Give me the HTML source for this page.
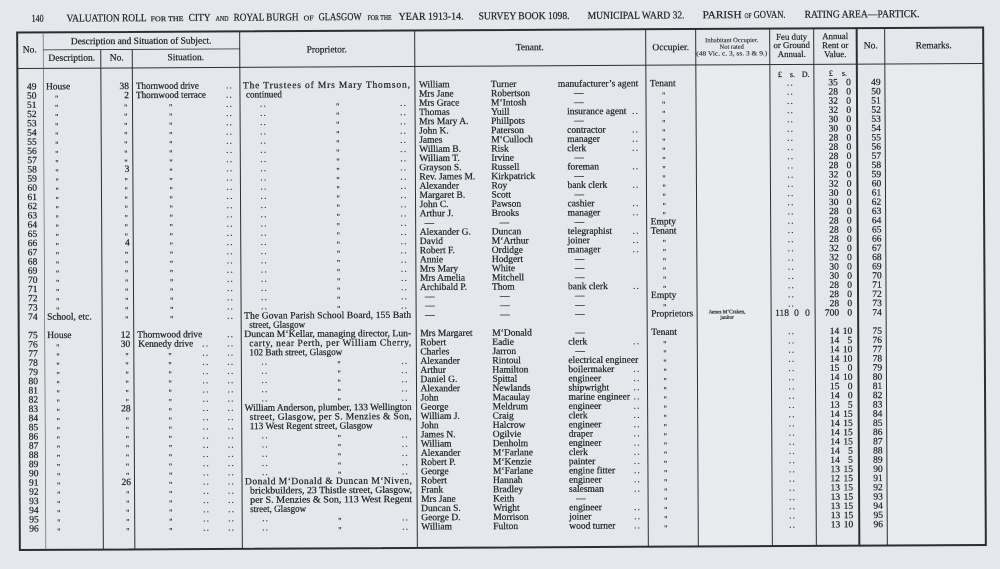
<!DOCTYPE html>
<html><head><meta charset="utf-8"><style>
html,body{margin:0;padding:0;background:#e4e7eb;}
svg{display:block;}
text{font-family:"Liberation Serif",serif;stroke:#222;stroke-width:0.22px;}
</style></head><body>
<svg width="1000" height="569" viewBox="0 0 1000 569" xmlns="http://www.w3.org/2000/svg" font-family="Liberation Serif, serif">
<rect width="1000" height="569" fill="#e4e7eb"/>
<g transform="rotate(-0.3 500 290)" font-family="Liberation Serif, serif">
<rect x="697" y="66" width="74" height="481" fill="#e9ecef"/>
<rect x="886" y="66" width="98" height="481" fill="#e8ebee"/>

<g stroke="#2e2e2e" fill="none">
<rect x="18.5" y="30" width="966" height="517.5" stroke-width="2"/>
<line x1="18.5" y1="66" x2="984.5" y2="66" stroke-width="1"/>
<line x1="44.5" y1="47.5" x2="241" y2="47.5" stroke-width="0.8"/>
<line x1="44.5" y1="30" x2="44.5" y2="547" stroke-width="0.7" stroke="#666"/>
<line x1="102" y1="47.5" x2="102" y2="547" stroke-width="1"/>
<line x1="133.5" y1="47.5" x2="133.5" y2="547" stroke-width="1"/>
<line x1="241" y1="30" x2="241" y2="547" stroke-width="1"/>
<line x1="416" y1="30" x2="416" y2="547" stroke-width="1"/>
<line x1="647" y1="30" x2="647" y2="547" stroke-width="1"/>
<line x1="697" y1="30" x2="697" y2="547" stroke-width="1"/>
<line x1="771" y1="30" x2="771" y2="547" stroke-width="1"/>
<line x1="815" y1="30" x2="815" y2="547" stroke-width="1"/>
<line x1="858" y1="30" x2="858" y2="547" stroke-width="2"/>
<line x1="886" y1="30" x2="886" y2="547" stroke-width="1"/>
</g>

<g fill="#222" font-size="10.5">
<text x="33" y="19.3" textLength="12" lengthAdjust="spacingAndGlyphs">140</text>
<text x="68" y="19.3" textLength="80" lengthAdjust="spacingAndGlyphs">VALUATION ROLL</text>
<text x="152" y="19.3" font-size="7" textLength="33" lengthAdjust="spacingAndGlyphs">FOR THE</text>
<text x="190" y="19.3" textLength="22" lengthAdjust="spacingAndGlyphs">CITY</text>
<text x="217" y="19.3" font-size="7" textLength="13" lengthAdjust="spacingAndGlyphs">AND</text>
<text x="235" y="19.3" textLength="65" lengthAdjust="spacingAndGlyphs">ROYAL BURGH</text>
<text x="305" y="19.3" font-size="7" textLength="10" lengthAdjust="spacingAndGlyphs">OF</text>
<text x="320" y="19.3" textLength="43" lengthAdjust="spacingAndGlyphs">GLASGOW</text>
<text x="369" y="19.3" font-size="7" textLength="24" lengthAdjust="spacingAndGlyphs">FOR THE</text>
<text x="400" y="19.3" textLength="65" lengthAdjust="spacingAndGlyphs">YEAR 1913-14.</text>
<text x="480" y="19.3" textLength="91" lengthAdjust="spacingAndGlyphs">SURVEY BOOK 1098.</text>
<text x="589" y="19.3" textLength="97" lengthAdjust="spacingAndGlyphs">MUNICIPAL WARD 32.</text>
<text x="704" y="19.3" textLength="39" lengthAdjust="spacingAndGlyphs">PARISH</text>
<text x="746" y="19.3" font-size="7" textLength="7" lengthAdjust="spacingAndGlyphs">OF</text>
<text x="755" y="19.3" textLength="32" lengthAdjust="spacingAndGlyphs">GOVAN.</text>
<text x="806" y="19.3" textLength="115" lengthAdjust="spacingAndGlyphs">RATING AREA—PARTICK.</text>
</g>

<g fill="#222" font-size="9.5" text-anchor="middle">
<text x="31" y="50">No.</text>
<text x="142.5" y="42">Description and Situation of Subject.</text>
<text x="73" y="58.5">Description.</text>
<text x="118" y="58.5">No.</text>
<text x="187" y="58.5">Situation.</text>
<text x="328" y="51.5">Proprietor.</text>
<text x="531" y="50.3">Tenant.</text>
<text x="672" y="51">Occupier.</text>
<text x="733" y="43.4" font-size="6.5" style="stroke-width:0.1px">Inhabitant Occupier.</text>
<text x="733" y="50" font-size="6.5" style="stroke-width:0.1px">Not rated</text>
<text x="733" y="56.7" font-size="6.5" style="stroke-width:0.1px" textLength="71" lengthAdjust="spacingAndGlyphs">(48 Vic. c. 3, ss. 3 &amp; 9.)</text>
<text x="793" y="41.2" font-size="8.8">Feu duty</text>
<text x="793" y="49.5" font-size="8.8">or Ground</text>
<text x="793" y="58.5" font-size="8.8">Annual.</text>
<text x="836.5" y="40.8" font-size="8.8">Annual</text>
<text x="836.5" y="49.8" font-size="8.8">Rent or</text>
<text x="836.5" y="58.8" font-size="8.8">Value.</text>
<text x="872" y="50.3">No.</text>
<text x="935" y="50.6">Remarks.</text>
</g>
<g fill="#222" font-size="8">
<text x="779" y="78.5">£</text><text x="791" y="78.5">s.</text><text x="803" y="78.5">D.</text>
<text x="830" y="77.5">£</text><text x="843" y="77.5">s.</text>
</g>

<g fill="#222" font-size="9.5" text-anchor="end">
<text x="37.5" y="87">49</text><text x="37.5" y="96.2">50</text><text x="37.5" y="105.4">51</text><text x="37.5" y="114.6">52</text><text x="37.5" y="123.8">53</text><text x="37.5" y="133.1">54</text><text x="37.5" y="142.3">55</text><text x="37.5" y="151.5">56</text><text x="37.5" y="160.7">57</text><text x="37.5" y="169.9">58</text><text x="37.5" y="179.1">59</text><text x="37.5" y="188.3">60</text><text x="37.5" y="197.5">61</text><text x="37.5" y="206.7">62</text><text x="37.5" y="215.9">63</text><text x="37.5" y="225.2">64</text><text x="37.5" y="234.4">65</text><text x="37.5" y="243.6">66</text><text x="37.5" y="252.8">67</text><text x="37.5" y="262">68</text><text x="37.5" y="271.2">69</text><text x="37.5" y="280.4">70</text><text x="37.5" y="289.6">71</text><text x="37.5" y="298.8">72</text><text x="37.5" y="308">73</text><text x="37.5" y="317.3">74</text>
<text x="37.5" y="335.7">75</text><text x="37.5" y="344.9">76</text><text x="37.5" y="354.1">77</text><text x="37.5" y="363.3">78</text><text x="37.5" y="372.5">79</text><text x="37.5" y="381.7">80</text><text x="37.5" y="390.9">81</text><text x="37.5" y="400.1">82</text><text x="37.5" y="409.4">83</text><text x="37.5" y="418.6">84</text><text x="37.5" y="427.8">85</text><text x="37.5" y="437">86</text><text x="37.5" y="446.2">87</text><text x="37.5" y="455.4">88</text><text x="37.5" y="464.6">89</text><text x="37.5" y="473.8">90</text><text x="37.5" y="483">91</text><text x="37.5" y="492.2">92</text><text x="37.5" y="501.5">93</text><text x="37.5" y="510.7">94</text><text x="37.5" y="519.9">95</text><text x="37.5" y="529.1">96</text>
</g>

<g fill="#222" font-size="9.5">
<text x="47" y="87">House</text>
<text x="47" y="317.3">School, etc.</text>
<text x="47" y="335.7">House</text>
</g>
<g fill="#333" font-size="8" transform="translate(0,2.5)">
<text x="56" y="96.2">"</text><text x="56" y="105.4">"</text><text x="56" y="114.6">"</text><text x="56" y="123.8">"</text><text x="56" y="133.1">"</text><text x="56" y="142.3">"</text><text x="56" y="151.5">"</text><text x="56" y="160.7">"</text><text x="56" y="169.9">"</text><text x="56" y="179.1">"</text><text x="56" y="188.3">"</text><text x="56" y="197.5">"</text><text x="56" y="206.7">"</text><text x="56" y="215.9">"</text><text x="56" y="225.2">"</text><text x="56" y="234.4">"</text><text x="56" y="243.6">"</text><text x="56" y="252.8">"</text><text x="56" y="262">"</text><text x="56" y="271.2">"</text><text x="56" y="280.4">"</text><text x="56" y="289.6">"</text><text x="56" y="298.8">"</text><text x="56" y="308">"</text>
<text x="56" y="344.9">"</text><text x="56" y="354.1">"</text><text x="56" y="363.3">"</text><text x="56" y="372.5">"</text><text x="56" y="381.7">"</text><text x="56" y="390.9">"</text><text x="56" y="400.1">"</text><text x="56" y="409.4">"</text><text x="56" y="418.6">"</text><text x="56" y="427.8">"</text><text x="56" y="437">"</text><text x="56" y="446.2">"</text><text x="56" y="455.4">"</text><text x="56" y="464.6">"</text><text x="56" y="473.8">"</text><text x="56" y="483">"</text><text x="56" y="492.2">"</text><text x="56" y="501.5">"</text><text x="56" y="510.7">"</text><text x="56" y="519.9">"</text><text x="56" y="529.1">"</text>
</g>

<g fill="#222" font-size="9.5" text-anchor="end">
<text x="130" y="87">38</text><text x="130" y="96.2">2</text><text x="130" y="169.9">3</text><text x="130" y="243.6">4</text>
<text x="130" y="335.7">12</text><text x="130" y="344.9">30</text><text x="130" y="409.4">28</text><text x="130" y="483">26</text>
</g>
<g fill="#333" font-size="8" transform="translate(0,2.5)">
<text x="125" y="105.4">"</text><text x="125" y="114.6">"</text><text x="125" y="123.8">"</text><text x="125" y="133.1">"</text><text x="125" y="142.3">"</text><text x="125" y="151.5">"</text><text x="125" y="160.7">"</text>
<text x="125" y="179.1">"</text><text x="125" y="188.3">"</text><text x="125" y="197.5">"</text><text x="125" y="206.7">"</text><text x="125" y="215.9">"</text><text x="125" y="225.2">"</text><text x="125" y="234.4">"</text>
<text x="125" y="252.8">"</text><text x="125" y="262">"</text><text x="125" y="271.2">"</text><text x="125" y="280.4">"</text><text x="125" y="289.6">"</text><text x="125" y="298.8">"</text><text x="125" y="308">"</text><text x="125" y="317.3">"</text>
<text x="125" y="354.1">"</text><text x="125" y="363.3">"</text><text x="125" y="372.5">"</text><text x="125" y="381.7">"</text><text x="125" y="390.9">"</text><text x="125" y="400.1">"</text>
<text x="125" y="418.6">"</text><text x="125" y="427.8">"</text><text x="125" y="437">"</text><text x="125" y="446.2">"</text><text x="125" y="455.4">"</text><text x="125" y="464.6">"</text><text x="125" y="473.8">"</text>
<text x="125" y="492.2">"</text><text x="125" y="501.5">"</text><text x="125" y="510.7">"</text><text x="125" y="519.9">"</text><text x="125" y="529.1">"</text>
</g>

<g fill="#222" font-size="9.5">
<text x="137" y="87" textLength="63" lengthAdjust="spacingAndGlyphs">Thornwood drive</text>
<text x="137" y="96.2" textLength="70" lengthAdjust="spacingAndGlyphs">Thornwood terrace</text>
<text x="137" y="335.7" textLength="65" lengthAdjust="spacingAndGlyphs">Thornwood drive</text>
<text x="138" y="344.9" textLength="55" lengthAdjust="spacingAndGlyphs">Kennedy drive</text>
</g>
<g fill="#333" font-size="8" transform="translate(0,2.5)">
<text x="170" y="105.4">"</text><text x="170" y="114.6">"</text><text x="170" y="123.8">"</text><text x="170" y="133.1">"</text><text x="170" y="142.3">"</text><text x="170" y="151.5">"</text><text x="170" y="160.7">"</text><text x="170" y="169.9">"</text><text x="170" y="179.1">"</text><text x="170" y="188.3">"</text><text x="170" y="197.5">"</text><text x="170" y="206.7">"</text><text x="170" y="215.9">"</text><text x="170" y="225.2">"</text><text x="170" y="234.4">"</text><text x="170" y="243.6">"</text><text x="170" y="252.8">"</text><text x="170" y="262">"</text><text x="170" y="271.2">"</text><text x="170" y="280.4">"</text><text x="170" y="289.6">"</text><text x="170" y="298.8">"</text><text x="170" y="308">"</text><text x="170" y="317.3">"</text>
<text x="168" y="354.1">"</text><text x="168" y="363.3">"</text><text x="168" y="372.5">"</text><text x="168" y="381.7">"</text><text x="168" y="390.9">"</text><text x="168" y="400.1">"</text><text x="168" y="409.4">"</text><text x="168" y="418.6">"</text><text x="168" y="427.8">"</text><text x="168" y="437">"</text><text x="168" y="446.2">"</text><text x="168" y="455.4">"</text><text x="168" y="464.6">"</text><text x="168" y="473.8">"</text><text x="168" y="483">"</text><text x="168" y="492.2">"</text><text x="168" y="501.5">"</text><text x="168" y="510.7">"</text><text x="168" y="519.9">"</text><text x="168" y="529.1">"</text>
</g>
<g fill="#333" font-size="9" letter-spacing="1.3">
<text x="227" y="87">..</text><text x="227" y="96.2">..</text><text x="227" y="105.4">..</text><text x="227" y="114.6">..</text><text x="227" y="123.8">..</text><text x="227" y="133.1">..</text><text x="227" y="142.3">..</text><text x="227" y="151.5">..</text><text x="227" y="160.7">..</text><text x="227" y="169.9">..</text><text x="227" y="179.1">..</text><text x="227" y="188.3">..</text><text x="227" y="197.5">..</text><text x="227" y="206.7">..</text><text x="227" y="215.9">..</text><text x="227" y="225.2">..</text><text x="227" y="234.4">..</text><text x="227" y="243.6">..</text><text x="227" y="252.8">..</text><text x="227" y="262">..</text><text x="227" y="271.2">..</text><text x="227" y="280.4">..</text><text x="227" y="289.6">..</text><text x="227" y="298.8">..</text><text x="227" y="308">..</text><text x="227" y="317.3">..</text>
<text x="227" y="335.7">..</text><text x="227" y="344.9">..</text><text x="227" y="354.1">..</text><text x="227" y="363.3">..</text><text x="227" y="372.5">..</text><text x="227" y="381.7">..</text><text x="227" y="390.9">..</text><text x="227" y="400.1">..</text><text x="227" y="409.4">..</text><text x="227" y="418.6">..</text><text x="227" y="427.8">..</text><text x="227" y="437">..</text><text x="227" y="446.2">..</text><text x="227" y="455.4">..</text><text x="227" y="464.6">..</text><text x="227" y="473.8">..</text><text x="227" y="483">..</text><text x="227" y="492.2">..</text><text x="227" y="501.5">..</text><text x="227" y="510.7">..</text><text x="227" y="519.9">..</text><text x="227" y="529.1">..</text>
<text x="202" y="344.9">..</text><text x="202" y="354.1">..</text><text x="202" y="363.3">..</text><text x="202" y="372.5">..</text><text x="202" y="381.7">..</text><text x="202" y="390.9">..</text><text x="202" y="400.1">..</text><text x="202" y="409.4">..</text><text x="202" y="418.6">..</text><text x="202" y="427.8">..</text><text x="202" y="437">..</text><text x="202" y="446.2">..</text><text x="202" y="455.4">..</text><text x="202" y="464.6">..</text><text x="202" y="473.8">..</text><text x="202" y="483">..</text><text x="202" y="492.2">..</text><text x="202" y="501.5">..</text><text x="202" y="510.7">..</text><text x="202" y="519.9">..</text><text x="202" y="529.1">..</text>
</g>

<g fill="#222" font-size="9.5">
<text x="244" y="87" textLength="167" lengthAdjust="spacing">The Trustees of Mrs Mary Thomson,</text>
<text x="247" y="96.2" textLength="36" lengthAdjust="spacingAndGlyphs">continued</text>
<text x="244" y="317.3" textLength="167" lengthAdjust="spacing">The Govan Parish School Board, 155 Bath</text>
<text x="249" y="326.5" textLength="56" lengthAdjust="spacingAndGlyphs">street, Glasgow</text>
<text x="244" y="335.7" textLength="167" lengthAdjust="spacingAndGlyphs">Duncan M‘Kellar, managing director, Lun-</text>
<text x="249" y="344.9" textLength="162" lengthAdjust="spacing">carty, near Perth, per William Cherry,</text>
<text x="249" y="354.1" textLength="93" lengthAdjust="spacingAndGlyphs">102 Bath street, Glasgow</text>
<text x="244" y="409.4" textLength="167" lengthAdjust="spacingAndGlyphs">William Anderson, plumber, 133 Wellington</text>
<text x="249" y="418.6" textLength="162" lengthAdjust="spacing">street, Glasgow, per S. Menzies &amp; Son,</text>
<text x="249" y="427.8" textLength="123" lengthAdjust="spacingAndGlyphs">113 West Regent street, Glasgow</text>
<text x="244" y="483" textLength="167" lengthAdjust="spacing">Donald M‘Donald &amp; Duncan M‘Niven,</text>
<text x="249" y="492.2" textLength="162" lengthAdjust="spacingAndGlyphs">brickbuilders, 23 Thistle street, Glasgow,</text>
<text x="249" y="501.5" textLength="162" lengthAdjust="spacingAndGlyphs">per S. Menzies &amp; Son, 113 West Regent</text>
<text x="249" y="510.7" textLength="56" lengthAdjust="spacingAndGlyphs">street, Glasgow</text>
</g>
<g fill="#333" font-size="9" letter-spacing="1.3">
<text x="261" y="105.4">..</text><text x="261" y="114.6">..</text><text x="261" y="123.8">..</text><text x="261" y="133.1">..</text><text x="261" y="142.3">..</text><text x="261" y="151.5">..</text><text x="261" y="160.7">..</text><text x="261" y="169.9">..</text><text x="261" y="179.1">..</text><text x="261" y="188.3">..</text><text x="261" y="197.5">..</text><text x="261" y="206.7">..</text><text x="261" y="215.9">..</text><text x="261" y="225.2">..</text><text x="261" y="234.4">..</text><text x="261" y="243.6">..</text><text x="261" y="252.8">..</text><text x="261" y="262">..</text><text x="261" y="271.2">..</text><text x="261" y="280.4">..</text><text x="261" y="289.6">..</text><text x="261" y="298.8">..</text><text x="261" y="308">..</text>
<text x="261" y="363.3">..</text><text x="261" y="372.5">..</text><text x="261" y="381.7">..</text><text x="261" y="390.9">..</text><text x="261" y="400.1">..</text>
<text x="261" y="437">..</text><text x="261" y="446.2">..</text><text x="261" y="455.4">..</text><text x="261" y="464.6">..</text><text x="261" y="473.8">..</text>
<text x="261" y="519.9">..</text><text x="261" y="529.1">..</text>
<text x="401" y="105.4">..</text><text x="401" y="114.6">..</text><text x="401" y="123.8">..</text><text x="401" y="133.1">..</text><text x="401" y="142.3">..</text><text x="401" y="151.5">..</text><text x="401" y="160.7">..</text><text x="401" y="169.9">..</text><text x="401" y="179.1">..</text><text x="401" y="188.3">..</text><text x="401" y="197.5">..</text><text x="401" y="206.7">..</text><text x="401" y="215.9">..</text><text x="401" y="225.2">..</text><text x="401" y="234.4">..</text><text x="401" y="243.6">..</text><text x="401" y="252.8">..</text><text x="401" y="262">..</text><text x="401" y="271.2">..</text><text x="401" y="280.4">..</text><text x="401" y="289.6">..</text><text x="401" y="298.8">..</text><text x="401" y="308">..</text>
<text x="401" y="363.3">..</text><text x="401" y="372.5">..</text><text x="401" y="381.7">..</text><text x="401" y="390.9">..</text><text x="401" y="400.1">..</text>
<text x="401" y="437">..</text><text x="401" y="446.2">..</text><text x="401" y="455.4">..</text><text x="401" y="464.6">..</text><text x="401" y="473.8">..</text>
<text x="401" y="519.9">..</text><text x="401" y="529.1">..</text>
</g>
<g fill="#333" font-size="8" transform="translate(0,2.5)">
<text x="337" y="105.4">"</text><text x="337" y="114.6">"</text><text x="337" y="123.8">"</text><text x="337" y="133.1">"</text><text x="337" y="142.3">"</text><text x="337" y="151.5">"</text><text x="337" y="160.7">"</text><text x="337" y="169.9">"</text><text x="337" y="179.1">"</text><text x="337" y="188.3">"</text><text x="337" y="197.5">"</text><text x="337" y="206.7">"</text><text x="337" y="215.9">"</text><text x="337" y="225.2">"</text><text x="337" y="234.4">"</text><text x="337" y="243.6">"</text><text x="337" y="252.8">"</text><text x="337" y="262">"</text><text x="337" y="271.2">"</text><text x="337" y="280.4">"</text><text x="337" y="289.6">"</text><text x="337" y="298.8">"</text><text x="337" y="308">"</text>
<text x="337" y="363.3">"</text><text x="337" y="372.5">"</text><text x="337" y="381.7">"</text><text x="337" y="390.9">"</text><text x="337" y="400.1">"</text>
<text x="337" y="437">"</text><text x="337" y="446.2">"</text><text x="337" y="455.4">"</text><text x="337" y="464.6">"</text><text x="337" y="473.8">"</text>
<text x="337" y="519.9">"</text><text x="337" y="529.1">"</text>
</g>

<g fill="#222" font-size="9.5">
<text x="420" y="87">William</text><text x="492" y="87">Turner</text><text x="559" y="87">manufacturer’s agent</text>
<text x="420" y="96.2">Mrs Jane</text><text x="492" y="96.2">Robertson</text>
<text x="420" y="105.4">Mrs Grace</text><text x="492" y="105.4">M‘Intosh</text>
<text x="420" y="114.6">Thomas</text><text x="492" y="114.6">Yuill</text><text x="568" y="114.6">insurance agent</text>
<text x="420" y="123.8">Mrs Mary A.</text><text x="492" y="123.8">Phillpots</text>
<text x="420" y="133.1">John K.</text><text x="492" y="133.1">Paterson</text><text x="568" y="133.1">contractor</text>
<text x="420" y="142.3">James</text><text x="492" y="142.3">M‘Culloch</text><text x="568" y="142.3">manager</text>
<text x="420" y="151.5">William B.</text><text x="492" y="151.5">Risk</text><text x="568" y="151.5">clerk</text>
<text x="420" y="160.7">William T.</text><text x="492" y="160.7">Irvine</text>
<text x="420" y="169.9">Grayson S.</text><text x="492" y="169.9">Russell</text><text x="568" y="169.9">foreman</text>
<text x="420" y="179.1">Rev. James M.</text><text x="492" y="179.1">Kirkpatrick</text>
<text x="420" y="188.3">Alexander</text><text x="492" y="188.3">Roy</text><text x="568" y="188.3">bank clerk</text>
<text x="420" y="197.5">Margaret B.</text><text x="492" y="197.5">Scott</text>
<text x="420" y="206.7">John C.</text><text x="492" y="206.7">Pawson</text><text x="568" y="206.7">cashier</text>
<text x="420" y="215.9">Arthur J.</text><text x="492" y="215.9">Brooks</text><text x="568" y="215.9">manager</text>
<text x="420" y="234.4">Alexander G.</text><text x="492" y="234.4">Duncan</text><text x="568" y="234.4">telegraphist</text>
<text x="420" y="243.6">David</text><text x="492" y="243.6">M‘Arthur</text><text x="568" y="243.6">joiner</text>
<text x="420" y="252.8">Robert F.</text><text x="492" y="252.8">Ordidge</text><text x="568" y="252.8">manager</text>
<text x="420" y="262">Annie</text><text x="492" y="262">Hodgert</text>
<text x="420" y="271.2">Mrs Mary</text><text x="492" y="271.2">White</text>
<text x="420" y="280.4">Mrs Amelia</text><text x="492" y="280.4">Mitchell</text>
<text x="420" y="289.6">Archibald P.</text><text x="492" y="289.6">Thom</text><text x="568" y="289.6">bank clerk</text>
<text x="420" y="335.7">Mrs Margaret</text><text x="492" y="335.7">M‘Donald</text>
<text x="420" y="344.9">Robert</text><text x="492" y="344.9">Eadie</text><text x="568" y="344.9">clerk</text>
<text x="420" y="354.1">Charles</text><text x="492" y="354.1">Jarron</text>
<text x="420" y="363.3">Alexander</text><text x="492" y="363.3">Rintoul</text><text x="568" y="363.3">electrical engineer</text>
<text x="420" y="372.5">Arthur</text><text x="492" y="372.5">Hamilton</text><text x="568" y="372.5">boilermaker</text>
<text x="420" y="381.7">Daniel G.</text><text x="492" y="381.7">Spittal</text><text x="568" y="381.7">engineer</text>
<text x="420" y="390.9">Alexander</text><text x="492" y="390.9">Newlands</text><text x="568" y="390.9">shipwright</text>
<text x="420" y="400.1">John</text><text x="492" y="400.1">Macaulay</text><text x="568" y="400.1">marine engineer</text>
<text x="420" y="409.4">George</text><text x="492" y="409.4">Meldrum</text><text x="568" y="409.4">engineer</text>
<text x="420" y="418.6">William J.</text><text x="492" y="418.6">Craig</text><text x="568" y="418.6">clerk</text>
<text x="420" y="427.8">John</text><text x="492" y="427.8">Halcrow</text><text x="568" y="427.8">engineer</text>
<text x="420" y="437">James N.</text><text x="492" y="437">Ogilvie</text><text x="568" y="437">draper</text>
<text x="420" y="446.2">William</text><text x="492" y="446.2">Denholm</text><text x="568" y="446.2">engineer</text>
<text x="420" y="455.4">Alexander</text><text x="492" y="455.4">M‘Farlane</text><text x="568" y="455.4">clerk</text>
<text x="420" y="464.6">Robert P.</text><text x="492" y="464.6">M‘Kenzie</text><text x="568" y="464.6">painter</text>
<text x="420" y="473.8">George</text><text x="492" y="473.8">M‘Farlane</text><text x="568" y="473.8">engine fitter</text>
<text x="420" y="483">Robert</text><text x="492" y="483">Hannah</text><text x="568" y="483">engineer</text>
<text x="420" y="492.2">Frank</text><text x="492" y="492.2">Bradley</text><text x="568" y="492.2">salesman</text>
<text x="420" y="501.5">Mrs Jane</text><text x="492" y="501.5">Keith</text>
<text x="420" y="510.7">Duncan S.</text><text x="492" y="510.7">Wright</text><text x="568" y="510.7">engineer</text>
<text x="420" y="519.9">George D.</text><text x="492" y="519.9">Morrison</text><text x="568" y="519.9">joiner</text>
<text x="420" y="529.1">William</text><text x="492" y="529.1">Fulton</text><text x="568" y="529.1">wood turner</text>
</g>
<g fill="#333" font-size="9.5">
<text x="575" y="96.2">—</text><text x="575" y="105.4">—</text><text x="575" y="123.8">—</text><text x="575" y="160.7">—</text><text x="575" y="179.1">—</text><text x="575" y="197.5">—</text>
<text x="425" y="225.2">—</text><text x="500" y="225.2">—</text><text x="575" y="225.2">—</text>
<text x="575" y="262">—</text><text x="575" y="271.2">—</text><text x="575" y="280.4">—</text>
<text x="425" y="298.8">—</text><text x="500" y="298.8">—</text><text x="575" y="298.8">—</text>
<text x="425" y="308">—</text><text x="500" y="308">—</text><text x="575" y="308">—</text>
<text x="425" y="317.3">—</text><text x="500" y="317.3">—</text><text x="575" y="317.3">—</text>
<text x="575" y="335.7">—</text><text x="575" y="354.1">—</text><text x="575" y="501.5">—</text>
</g>
<g fill="#333" font-size="9" letter-spacing="1.3">
<text x="633" y="114.6">..</text><text x="633" y="133.1">..</text><text x="633" y="142.3">..</text><text x="633" y="151.5">..</text><text x="633" y="169.9">..</text><text x="633" y="188.3">..</text><text x="633" y="206.7">..</text><text x="633" y="215.9">..</text><text x="633" y="234.4">..</text><text x="633" y="243.6">..</text><text x="633" y="252.8">..</text><text x="633" y="289.6">..</text>
<text x="633" y="344.9">..</text><text x="633" y="372.5">..</text><text x="633" y="381.7">..</text><text x="633" y="390.9">..</text><text x="633" y="400.1">..</text><text x="633" y="409.4">..</text><text x="633" y="418.6">..</text><text x="633" y="427.8">..</text><text x="633" y="437">..</text><text x="633" y="446.2">..</text><text x="633" y="455.4">..</text><text x="633" y="464.6">..</text><text x="633" y="473.8">..</text><text x="633" y="483">..</text><text x="633" y="492.2">..</text><text x="633" y="510.7">..</text><text x="633" y="519.9">..</text><text x="633" y="529.1">..</text>
</g>

<g fill="#222" font-size="9.5">
<text x="651" y="87">Tenant</text>
<text x="651" y="225.2">Empty</text>
<text x="651" y="234.4">Tenant</text>
<text x="651" y="298.8">Empty</text>
<text x="651" y="317.3" textLength="42" lengthAdjust="spacingAndGlyphs">Proprietors</text>
<text x="651" y="335.7">Tenant</text>
</g>
<g fill="#333" font-size="8" transform="translate(0,2.5)">
<text x="663" y="96.2">"</text><text x="663" y="105.4">"</text><text x="663" y="114.6">"</text><text x="663" y="123.8">"</text><text x="663" y="133.1">"</text><text x="663" y="142.3">"</text><text x="663" y="151.5">"</text><text x="663" y="160.7">"</text><text x="663" y="169.9">"</text><text x="663" y="179.1">"</text><text x="663" y="188.3">"</text><text x="663" y="197.5">"</text><text x="663" y="206.7">"</text><text x="663" y="215.9">"</text>
<text x="663" y="243.6">"</text><text x="663" y="252.8">"</text><text x="663" y="262">"</text><text x="663" y="271.2">"</text><text x="663" y="280.4">"</text><text x="663" y="289.6">"</text>
<text x="663" y="308">"</text>
<text x="663" y="344.9">"</text><text x="663" y="354.1">"</text><text x="663" y="363.3">"</text><text x="663" y="372.5">"</text><text x="663" y="381.7">"</text><text x="663" y="390.9">"</text><text x="663" y="400.1">"</text><text x="663" y="409.4">"</text><text x="663" y="418.6">"</text><text x="663" y="427.8">"</text><text x="663" y="437">"</text><text x="663" y="446.2">"</text><text x="663" y="455.4">"</text><text x="663" y="464.6">"</text><text x="663" y="473.8">"</text><text x="663" y="483">"</text><text x="663" y="492.2">"</text><text x="663" y="501.5">"</text><text x="663" y="510.7">"</text><text x="663" y="519.9">"</text><text x="663" y="529.1">"</text>
</g>

<g fill="#333" font-size="5.2" text-anchor="middle" style="stroke-width:0.08px">
<text x="727" y="314.5">James M‘Craken,</text>
<text x="727" y="320">janitor</text>
</g>

<g fill="#333" font-size="9" letter-spacing="1.3">
<text x="788" y="87">..</text><text x="788" y="96.2">..</text><text x="788" y="105.4">..</text><text x="788" y="114.6">..</text><text x="788" y="123.8">..</text><text x="788" y="133.1">..</text><text x="788" y="142.3">..</text><text x="788" y="151.5">..</text><text x="788" y="160.7">..</text><text x="788" y="169.9">..</text><text x="788" y="179.1">..</text><text x="788" y="188.3">..</text><text x="788" y="197.5">..</text><text x="788" y="206.7">..</text><text x="788" y="215.9">..</text><text x="788" y="225.2">..</text><text x="788" y="234.4">..</text><text x="788" y="243.6">..</text><text x="788" y="252.8">..</text><text x="788" y="262">..</text><text x="788" y="271.2">..</text><text x="788" y="280.4">..</text><text x="788" y="289.6">..</text><text x="788" y="298.8">..</text><text x="788" y="308">..</text>
<text x="788" y="335.7">..</text><text x="788" y="344.9">..</text><text x="788" y="354.1">..</text><text x="788" y="363.3">..</text><text x="788" y="372.5">..</text><text x="788" y="381.7">..</text><text x="788" y="390.9">..</text><text x="788" y="400.1">..</text><text x="788" y="409.4">..</text><text x="788" y="418.6">..</text><text x="788" y="427.8">..</text><text x="788" y="437">..</text><text x="788" y="446.2">..</text><text x="788" y="455.4">..</text><text x="788" y="464.6">..</text><text x="788" y="473.8">..</text><text x="788" y="483">..</text><text x="788" y="492.2">..</text><text x="788" y="501.5">..</text><text x="788" y="510.7">..</text><text x="788" y="519.9">..</text><text x="788" y="529.1">..</text>
</g>
<g fill="#222" font-size="9.5">
<text x="775" y="317.3">118</text><text x="794" y="317.3">0</text><text x="805" y="317.3">0</text>
</g>

<g fill="#222" font-size="9.5" text-anchor="end">
<text x="839" y="87">35</text><text x="839" y="96.2">28</text><text x="839" y="105.4">32</text><text x="839" y="114.6">32</text><text x="839" y="123.8">30</text><text x="839" y="133.1">30</text><text x="839" y="142.3">28</text><text x="839" y="151.5">28</text><text x="839" y="160.7">28</text><text x="839" y="169.9">28</text><text x="839" y="179.1">32</text><text x="839" y="188.3">32</text><text x="839" y="197.5">30</text><text x="839" y="206.7">30</text><text x="839" y="215.9">28</text><text x="839" y="225.2">28</text><text x="839" y="234.4">28</text><text x="839" y="243.6">28</text><text x="839" y="252.8">32</text><text x="839" y="262">32</text><text x="839" y="271.2">30</text><text x="839" y="280.4">30</text><text x="839" y="289.6">28</text><text x="839" y="298.8">28</text><text x="839" y="308">28</text><text x="839" y="317.3">700</text>
<text x="839" y="335.7">14</text><text x="839" y="344.9">14</text><text x="839" y="354.1">14</text><text x="839" y="363.3">14</text><text x="839" y="372.5">15</text><text x="839" y="381.7">14</text><text x="839" y="390.9">15</text><text x="839" y="400.1">14</text><text x="839" y="409.4">13</text><text x="839" y="418.6">14</text><text x="839" y="427.8">14</text><text x="839" y="437">14</text><text x="839" y="446.2">14</text><text x="839" y="455.4">14</text><text x="839" y="464.6">14</text><text x="839" y="473.8">13</text><text x="839" y="483">12</text><text x="839" y="492.2">13</text><text x="839" y="501.5">13</text><text x="839" y="510.7">13</text><text x="839" y="519.9">13</text><text x="839" y="529.1">13</text>
</g>
<g fill="#222" font-size="9.5" text-anchor="end">
<text x="852" y="87">0</text><text x="852" y="96.2">0</text><text x="852" y="105.4">0</text><text x="852" y="114.6">0</text><text x="852" y="123.8">0</text><text x="852" y="133.1">0</text><text x="852" y="142.3">0</text><text x="852" y="151.5">0</text><text x="852" y="160.7">0</text><text x="852" y="169.9">0</text><text x="852" y="179.1">0</text><text x="852" y="188.3">0</text><text x="852" y="197.5">0</text><text x="852" y="206.7">0</text><text x="852" y="215.9">0</text><text x="852" y="225.2">0</text><text x="852" y="234.4">0</text><text x="852" y="243.6">0</text><text x="852" y="252.8">0</text><text x="852" y="262">0</text><text x="852" y="271.2">0</text><text x="852" y="280.4">0</text><text x="852" y="289.6">0</text><text x="852" y="298.8">0</text><text x="852" y="308">0</text><text x="852" y="317.3">0</text>
<text x="852" y="335.7">10</text><text x="852" y="344.9">5</text><text x="852" y="354.1">10</text><text x="852" y="363.3">10</text><text x="852" y="372.5">0</text><text x="852" y="381.7">10</text><text x="852" y="390.9">0</text><text x="852" y="400.1">0</text><text x="852" y="409.4">5</text><text x="852" y="418.6">15</text><text x="852" y="427.8">15</text><text x="852" y="437">15</text><text x="852" y="446.2">15</text><text x="852" y="455.4">5</text><text x="852" y="464.6">5</text><text x="852" y="473.8">15</text><text x="852" y="483">15</text><text x="852" y="492.2">15</text><text x="852" y="501.5">15</text><text x="852" y="510.7">15</text><text x="852" y="519.9">15</text><text x="852" y="529.1">10</text>
</g>

<g fill="#222" font-size="9.5" text-anchor="middle">
<text x="877" y="87">49</text><text x="877" y="96.2">50</text><text x="877" y="105.4">51</text><text x="877" y="114.6">52</text><text x="877" y="123.8">53</text><text x="877" y="133.1">54</text><text x="877" y="142.3">55</text><text x="877" y="151.5">56</text><text x="877" y="160.7">57</text><text x="877" y="169.9">58</text><text x="877" y="179.1">59</text><text x="877" y="188.3">60</text><text x="877" y="197.5">61</text><text x="877" y="206.7">62</text><text x="877" y="215.9">63</text><text x="877" y="225.2">64</text><text x="877" y="234.4">65</text><text x="877" y="243.6">66</text><text x="877" y="252.8">67</text><text x="877" y="262">68</text><text x="877" y="271.2">69</text><text x="877" y="280.4">70</text><text x="877" y="289.6">71</text><text x="877" y="298.8">72</text><text x="877" y="308">73</text><text x="877" y="317.3">74</text>
<text x="877" y="335.7">75</text><text x="877" y="344.9">76</text><text x="877" y="354.1">77</text><text x="877" y="363.3">78</text><text x="877" y="372.5">79</text><text x="877" y="381.7">80</text><text x="877" y="390.9">81</text><text x="877" y="400.1">82</text><text x="877" y="409.4">83</text><text x="877" y="418.6">84</text><text x="877" y="427.8">85</text><text x="877" y="437">86</text><text x="877" y="446.2">87</text><text x="877" y="455.4">88</text><text x="877" y="464.6">89</text><text x="877" y="473.8">90</text><text x="877" y="483">91</text><text x="877" y="492.2">92</text><text x="877" y="501.5">93</text><text x="877" y="510.7">94</text><text x="877" y="519.9">95</text><text x="877" y="529.1">96</text>
</g>
</g>
</svg>
</body></html>
